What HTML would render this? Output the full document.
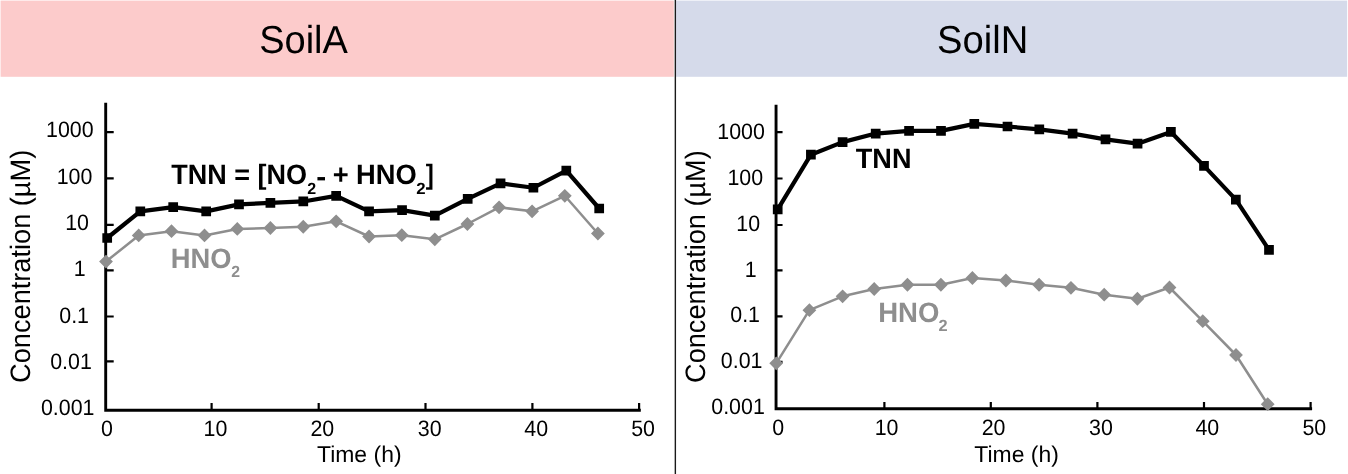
<!DOCTYPE html>
<html lang="en">
<head>
<meta charset="utf-8">
<title>SoilA / SoilN nitrite time courses</title>
<style>
html,body{margin:0;padding:0;background:#fff}
svg{display:block;font-family:"Liberation Sans",Arial,Helvetica,sans-serif;text-rendering:geometricPrecision}
</style>
</head>
<body>
<svg width="1348" height="474" viewBox="0 0 1348 474">
<rect width="1348" height="474" fill="#fff"/>
<rect x="0.6" y="0.6" width="673.2" height="76.2" fill="#fccbcb"/>
<rect x="676.1" y="0.6" width="671" height="76.2" fill="#d5daea"/>
<rect x="674.65" y="0" width="1.4" height="474" fill="#1a1a1a"/>
<text transform="translate(259.17 53.00) scale(0.9999 1.025)" font-size="38">SoilA</text>
<text transform="translate(936.97 52.80) scale(1.0049 1.025)" font-size="38">SoilN</text>
<path d="M105.70 102.70 V410.30 H640.80" fill="none" stroke="#000" stroke-width="2.9" stroke-linejoin="miter"/>
<path d="M105.70 132.10 h8.00M105.70 178.40 h8.00M105.70 224.85 h8.00M105.70 270.30 h8.00M105.70 316.50 h8.00M105.70 361.30 h8.00M211.60 410.30 V403.10M318.70 410.30 V403.10M425.50 410.30 V403.10M532.40 410.30 V403.10M639.10 410.30 V403.10" fill="none" stroke="#000" stroke-width="2.2"/>
<path d="M776.05 104.80 V408.70 H1312.10" fill="none" stroke="#000" stroke-width="2.9" stroke-linejoin="miter"/>
<path d="M776.05 132.10 h6.50M776.05 178.50 h6.50M776.05 225.00 h6.50M776.05 270.30 h6.50M776.05 316.30 h6.50M776.05 361.80 h6.50M884.40 408.70 V401.90M990.80 408.70 V401.90M1097.40 408.70 V401.90M1204.00 408.70 V401.90M1310.60 408.70 V401.90" fill="none" stroke="#000" stroke-width="2.2"/>
<text transform="translate(46.03 136.90) scale(1.0000 1.040)" font-size="21.4">1000</text>
<text transform="translate(56.63 183.50) scale(1.0000 1.040)" font-size="21.4">100</text>
<text transform="translate(65.13 229.80) scale(1.0000 1.040)" font-size="21.4">10</text>
<text transform="translate(73.66 276.40) scale(1.0000 1.040)" font-size="21.4">1</text>
<text transform="translate(59.26 322.90) scale(1.0000 1.040)" font-size="21.4">0.1</text>
<text transform="translate(50.16 369.40) scale(1.0000 1.040)" font-size="21.4">0.01</text>
<text transform="translate(40.96 415.40) scale(1.0000 1.040)" font-size="21.4">0.001</text>
<text transform="translate(717.23 139.40) scale(1.0000 1.040)" font-size="21.4">1000</text>
<text transform="translate(727.43 185.30) scale(1.0000 1.040)" font-size="21.4">100</text>
<text transform="translate(736.33 231.00) scale(1.0000 1.040)" font-size="21.4">10</text>
<text transform="translate(744.76 276.70) scale(1.0000 1.040)" font-size="21.4">1</text>
<text transform="translate(730.26 322.40) scale(1.0000 1.040)" font-size="21.4">0.1</text>
<text transform="translate(720.86 368.20) scale(1.0000 1.040)" font-size="21.4">0.01</text>
<text transform="translate(711.26 414.10) scale(1.0000 1.040)" font-size="21.4">0.001</text>
<text transform="translate(101.12 436.35) scale(1.0000 1.040)" font-size="21.4">0</text>
<text transform="translate(203.50 436.35) scale(1.0000 1.040)" font-size="21.4">10</text>
<text transform="translate(310.45 436.35) scale(1.0000 1.040)" font-size="21.4">20</text>
<text transform="translate(417.81 436.35) scale(1.0000 1.040)" font-size="21.4">30</text>
<text transform="translate(524.25 436.35) scale(1.0000 1.040)" font-size="21.4">40</text>
<text transform="translate(631.19 436.35) scale(1.0000 1.040)" font-size="21.4">50</text>
<text transform="translate(772.32 434.80) scale(1.0000 1.040)" font-size="21.4">0</text>
<text transform="translate(874.70 434.80) scale(1.0000 1.040)" font-size="21.4">10</text>
<text transform="translate(981.65 434.80) scale(1.0000 1.040)" font-size="21.4">20</text>
<text transform="translate(1089.01 434.80) scale(1.0000 1.040)" font-size="21.4">30</text>
<text transform="translate(1195.45 434.80) scale(1.0000 1.040)" font-size="21.4">40</text>
<text transform="translate(1302.39 434.80) scale(1.0000 1.040)" font-size="21.4">50</text>
<text transform="translate(316.98 461.70) scale(1.0434 1.040)" font-size="22">Time (h)</text>
<text transform="translate(974.29 461.80) scale(1.0421 1.040)" font-size="22">Time (h)</text>
<text transform="translate(29.80 382.88) rotate(-90) scale(1.0062 1.040)" font-size="27">Concentration (µM)</text>
<text transform="translate(704.60 382.88) rotate(-90) scale(1.0040 1.040)" font-size="27">Concentration (µM)</text>
<polyline points="106.00,261.60 138.70,235.40 171.50,231.20 204.50,235.40 237.30,228.90 270.40,228.00 303.25,226.75 336.15,221.30 369.05,236.50 401.80,235.20 434.80,239.35 467.40,224.00 499.10,207.30 532.10,211.30 564.80,195.80 597.90,233.50" fill="none" stroke="#8e8e8e" stroke-width="2.5" stroke-linejoin="round"/>
<path d="M106.00 254.70l6.9 6.9l-6.9 6.9l-6.9 -6.9zM138.70 228.50l6.9 6.9l-6.9 6.9l-6.9 -6.9zM171.50 224.30l6.9 6.9l-6.9 6.9l-6.9 -6.9zM204.50 228.50l6.9 6.9l-6.9 6.9l-6.9 -6.9zM237.30 222.00l6.9 6.9l-6.9 6.9l-6.9 -6.9zM270.40 221.10l6.9 6.9l-6.9 6.9l-6.9 -6.9zM303.25 219.85l6.9 6.9l-6.9 6.9l-6.9 -6.9zM336.15 214.40l6.9 6.9l-6.9 6.9l-6.9 -6.9zM369.05 229.60l6.9 6.9l-6.9 6.9l-6.9 -6.9zM401.80 228.30l6.9 6.9l-6.9 6.9l-6.9 -6.9zM434.80 232.45l6.9 6.9l-6.9 6.9l-6.9 -6.9zM467.40 217.10l6.9 6.9l-6.9 6.9l-6.9 -6.9zM499.10 200.40l6.9 6.9l-6.9 6.9l-6.9 -6.9zM532.10 204.40l6.9 6.9l-6.9 6.9l-6.9 -6.9zM564.80 188.90l6.9 6.9l-6.9 6.9l-6.9 -6.9zM597.90 226.60l6.9 6.9l-6.9 6.9l-6.9 -6.9z" fill="#8e8e8e"/>
<polyline points="107.20,238.00 140.30,211.40 173.20,207.20 206.20,211.40 239.00,204.40 270.40,202.80 303.30,201.45 336.15,195.90 369.05,211.40 402.05,210.10 434.80,215.65 467.70,198.80 500.55,183.30 533.40,187.75 566.30,170.55 599.20,208.50" fill="none" stroke="#000" stroke-width="4.2" stroke-linejoin="round"/>
<path d="M102.35 233.15h9.7v9.7h-9.7zM135.45 206.55h9.7v9.7h-9.7zM168.35 202.35h9.7v9.7h-9.7zM201.35 206.55h9.7v9.7h-9.7zM234.15 199.55h9.7v9.7h-9.7zM265.55 197.95h9.7v9.7h-9.7zM298.45 196.60h9.7v9.7h-9.7zM331.30 191.05h9.7v9.7h-9.7zM364.20 206.55h9.7v9.7h-9.7zM397.20 205.25h9.7v9.7h-9.7zM429.95 210.80h9.7v9.7h-9.7zM462.85 193.95h9.7v9.7h-9.7zM495.70 178.45h9.7v9.7h-9.7zM528.55 182.90h9.7v9.7h-9.7zM561.45 165.70h9.7v9.7h-9.7zM594.35 203.65h9.7v9.7h-9.7z" fill="#000"/>
<polyline points="776.20,363.30 809.40,310.20 842.60,296.30 874.20,289.00 907.45,284.75 940.90,284.75 972.40,278.00 1005.90,280.50 1039.05,284.75 1070.95,287.80 1104.20,294.70 1137.40,298.75 1169.50,287.50 1202.75,321.20 1236.00,355.00 1267.70,404.20" fill="none" stroke="#8e8e8e" stroke-width="2.5" stroke-linejoin="round"/>
<path d="M776.20 356.40l6.9 6.9l-6.9 6.9l-6.9 -6.9zM809.40 303.30l6.9 6.9l-6.9 6.9l-6.9 -6.9zM842.60 289.40l6.9 6.9l-6.9 6.9l-6.9 -6.9zM874.20 282.10l6.9 6.9l-6.9 6.9l-6.9 -6.9zM907.45 277.85l6.9 6.9l-6.9 6.9l-6.9 -6.9zM940.90 277.85l6.9 6.9l-6.9 6.9l-6.9 -6.9zM972.40 271.10l6.9 6.9l-6.9 6.9l-6.9 -6.9zM1005.90 273.60l6.9 6.9l-6.9 6.9l-6.9 -6.9zM1039.05 277.85l6.9 6.9l-6.9 6.9l-6.9 -6.9zM1070.95 280.90l6.9 6.9l-6.9 6.9l-6.9 -6.9zM1104.20 287.80l6.9 6.9l-6.9 6.9l-6.9 -6.9zM1137.40 291.85l6.9 6.9l-6.9 6.9l-6.9 -6.9zM1169.50 280.60l6.9 6.9l-6.9 6.9l-6.9 -6.9zM1202.75 314.30l6.9 6.9l-6.9 6.9l-6.9 -6.9zM1236.00 348.10l6.9 6.9l-6.9 6.9l-6.9 -6.9zM1267.70 397.30l6.9 6.9l-6.9 6.9l-6.9 -6.9z" fill="#8e8e8e"/>
<polyline points="777.70,209.40 810.90,154.70 842.60,142.10 875.70,133.55 909.05,130.90 941.00,130.85 974.30,123.85 1007.50,126.50 1039.30,129.40 1072.60,133.60 1105.50,139.40 1137.55,143.70 1170.90,131.95 1204.00,165.85 1235.85,199.60 1269.00,249.90" fill="none" stroke="#000" stroke-width="4.2" stroke-linejoin="round"/>
<path d="M772.85 204.55h9.7v9.7h-9.7zM806.05 149.85h9.7v9.7h-9.7zM837.75 137.25h9.7v9.7h-9.7zM870.85 128.70h9.7v9.7h-9.7zM904.20 126.05h9.7v9.7h-9.7zM936.15 126.00h9.7v9.7h-9.7zM969.45 119.00h9.7v9.7h-9.7zM1002.65 121.65h9.7v9.7h-9.7zM1034.45 124.55h9.7v9.7h-9.7zM1067.75 128.75h9.7v9.7h-9.7zM1100.65 134.55h9.7v9.7h-9.7zM1132.70 138.85h9.7v9.7h-9.7zM1166.05 127.10h9.7v9.7h-9.7zM1199.15 161.00h9.7v9.7h-9.7zM1231.00 194.75h9.7v9.7h-9.7zM1264.15 245.05h9.7v9.7h-9.7z" fill="#000"/>
<text transform="translate(171.20 184.40) scale(1.0000 1.040)" font-size="27" font-weight="700">TNN = [NO</text>
<text transform="translate(307.35 193.50) scale(1.0318 1.040)" font-size="15.5" font-weight="700">2</text>
<text transform="translate(316.23 185.70) scale(1.1086 1.040)" font-size="27" font-weight="700">-</text>
<text transform="translate(332.65 184.40) scale(1.0119 1.040)" font-size="27" font-weight="700">+</text>
<text transform="translate(355.97 184.40) scale(1.0112 1.040)" font-size="27" font-weight="700">HNO</text>
<text transform="translate(416.32 193.50) scale(1.0854 1.040)" font-size="15.5" font-weight="700">2</text>
<text transform="translate(425.70 184.40) scale(0.8957 1.040)" font-size="27" font-weight="700">]</text>
<text transform="translate(170.87 267.70) scale(1.0130 1.040)" font-size="27" font-weight="700" fill="#8e8e8e">HNO</text>
<text transform="translate(231.25 276.90) scale(1.0184 1.040)" font-size="15.5" font-weight="700" fill="#8e8e8e">2</text>
<text transform="translate(855.80 167.50) scale(1.0025 1.040)" font-size="27" font-weight="700">TNN</text>
<text transform="translate(878.16 322.00) scale(1.0200 1.040)" font-size="27" font-weight="700" fill="#8e8e8e">HNO</text>
<text transform="translate(938.43 331.40) scale(1.0586 1.040)" font-size="15.5" font-weight="700" fill="#8e8e8e">2</text>
</svg>
</body>
</html>
